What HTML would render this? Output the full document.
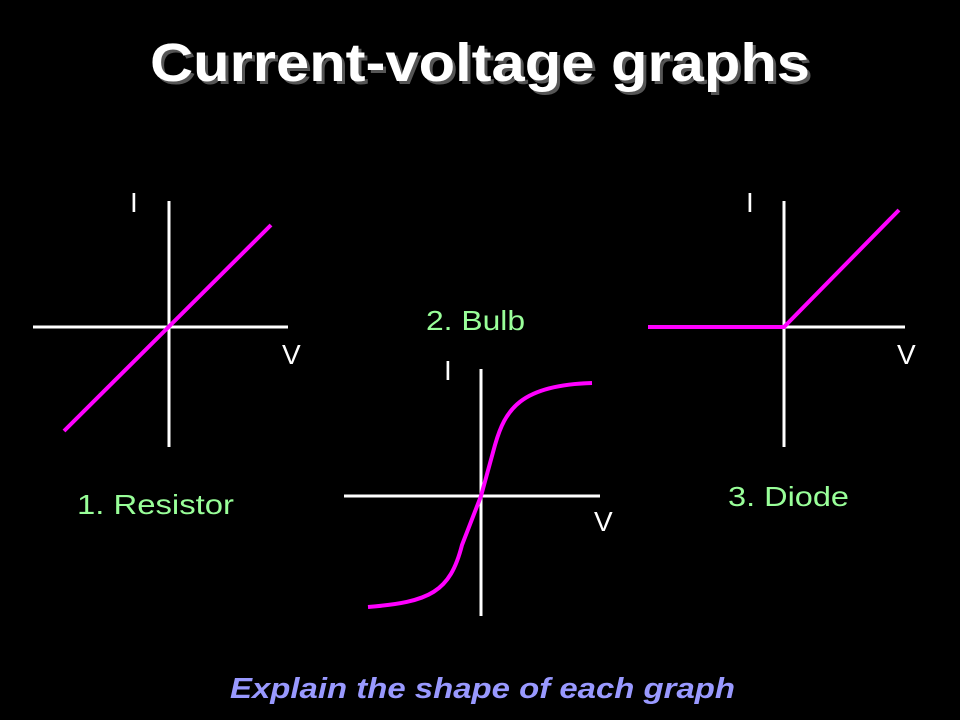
<!DOCTYPE html>
<html><head><style>
body{margin:0;background:#000;width:960px;height:720px;overflow:hidden;}
</style></head><body>
<svg width="960" height="720" xmlns="http://www.w3.org/2000/svg" style="display:block">
<rect width="960" height="720" fill="#000"/>
<text x="153" y="84" textLength="660" lengthAdjust="spacingAndGlyphs" font-family="Liberation Sans, sans-serif" font-weight="bold" font-size="54" fill="#555">Current-voltage graphs</text>
<text x="150" y="81" textLength="660" lengthAdjust="spacingAndGlyphs" font-family="Liberation Sans, sans-serif" font-weight="bold" font-size="54" fill="#fff">Current-voltage graphs</text>
<g stroke="#fff" stroke-width="3" fill="none">
<line x1="169" y1="201" x2="169" y2="447"/><line x1="33" y1="327" x2="288" y2="327"/>
<line x1="481" y1="369" x2="481" y2="616"/><line x1="344" y1="496" x2="600" y2="496"/>
<line x1="784" y1="201" x2="784" y2="447"/><line x1="648" y1="327" x2="905" y2="327"/>
</g>
<g stroke="#ff00ff" stroke-width="4" fill="none">
<line x1="64" y1="431" x2="271" y2="225"/>
<path d="M368,607 C430,602 450,592 462,545 L481,496 L495,445 C505,410 520,385 592,383"/>
<polyline points="648,327 784,327 899,210"/>
</g>
<g font-family="Liberation Sans, sans-serif" font-size="28" fill="#fff">
<text x="130" y="212">I</text><text x="282" y="364">V</text>
<text x="444" y="380">I</text><text x="594" y="531">V</text>
<text x="746" y="212">I</text><text x="897" y="364">V</text>
</g>
<g font-family="Liberation Sans, sans-serif" font-size="28" fill="#99ff99">
<text x="77" y="514" textLength="157" lengthAdjust="spacingAndGlyphs">1. Resistor</text>
<text x="426" y="330" textLength="99" lengthAdjust="spacingAndGlyphs">2. Bulb</text>
<text x="728" y="506" textLength="121" lengthAdjust="spacingAndGlyphs">3. Diode</text>
</g>
<text x="230" y="698" textLength="505" lengthAdjust="spacingAndGlyphs" font-family="Liberation Sans, sans-serif" font-weight="bold" font-style="italic" font-size="29" fill="#9999ff">Explain the shape of each graph</text>
</svg>
</body></html>
